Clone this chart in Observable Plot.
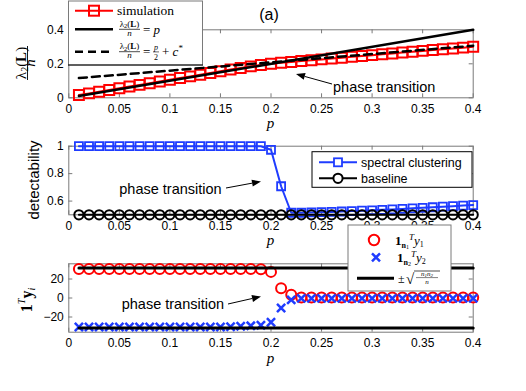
<!DOCTYPE html>
<html><head><meta charset="utf-8">
<script src="https://cdn.jsdelivr.net/npm/d3@7"></script>
<script src="https://cdn.jsdelivr.net/npm/@observablehq/plot@0.6"></script>
<style>
body{margin:0;background:#fff;}
#wrap{position:relative;width:526px;height:391px;overflow:hidden;background:#fff;}
</style></head><body><div id="wrap"></div>
<script>
// ---------- data ----------
const p = [0.01,0.02,0.03,0.04,0.05,0.06,0.07,0.08,0.09,0.10,0.11,0.12,0.13,0.14,0.15,0.16,0.17,0.18,0.19,0.20,
           0.21,0.22,0.23,0.24,0.25,0.26,0.27,0.28,0.29,0.30,0.31,0.32,0.33,0.34,0.35,0.36,0.37,0.38,0.39,0.40];
const simulation = [0.016,0.026,0.036,0.046,0.056,0.066,0.076,0.086,0.096,0.106,0.116,0.126,0.136,0.146,0.156,0.166,0.175,0.185,0.193,0.200,
                    0.206,0.211,0.216,0.221,0.226,0.231,0.236,0.241,0.246,0.251,0.256,0.261,0.266,0.271,0.276,0.281,0.286,0.290,0.295,0.300];
const lineP = [0.01, 0.40];
const theoryP = [0.01, 0.40];          // lambda2/n = p
const theoryHalf = [0.116, 0.306];     // lambda2/n = p/2 + c*
const spectral = [1,1,1,1,1,1,1,1,1,1,1,1,1,1,1,1,1,1,1,0.974,
                  0.708,0.515,0.515,0.517,0.519,0.521,0.524,0.527,0.530,0.533,0.536,0.539,0.543,0.547,0.551,0.555,0.559,0.563,0.567,0.571];
const baseline = [0.5,0.5,0.5,0.5,0.5,0.5,0.5,0.5,0.5,0.5,0.5,0.5,0.5,0.5,0.5,0.5,0.5,0.5,0.5,0.5,
                  0.5,0.5,0.5,0.5,0.5,0.5,0.5,0.5,0.5,0.5,0.5,0.5,0.5,0.5,0.5,0.5,0.5,0.5,0.5,0.5];
const sumY1 = [30.6,30.6,30.6,30.6,30.6,30.6,30.6,30.6,30.6,30.6,30.6,30.6,30.6,30.6,30.6,30.6,30.6,30.6,30.2,27.5,
               10.2,3.5,0.6,0.6,0.6,0.6,0.6,0.6,0.6,0.6,0.6,0.6,0.6,0.6,0.6,0.6,0.6,0.6,0.6,0.6];
const sumY2 = [-30.6,-30.6,-30.6,-30.6,-30.6,-30.6,-30.6,-30.6,-30.6,-30.6,-30.6,-30.6,-30.6,-30.6,-30.6,-30.2,-29.8,-29.3,-28.6,-25.5,
               -10.5,-2.0,-0.4,-0.4,-0.4,-0.4,-0.4,-0.4,-0.4,-0.4,-0.4,-0.4,-0.4,-0.4,-0.4,-0.4,-0.4,-0.4,-0.4,-0.4];
const boundUpper = [31.6, 31.6];
const boundLower = [-31.6, -31.6];

const xTicks = [0,0.05,0.1,0.15,0.2,0.25,0.3,0.35,0.4];
const xTickLabels = ["0","0.05","0.1","0.15","0.2","0.25","0.3","0.35","0.4"];
const y1Ticks = [0,0.2,0.4];   const y1TickLabels = ["0","0.2","0.4"];
const y2Ticks = [0.6,0.8,1];   const y2TickLabels = ["0.6","0.8","1"];
const y3Ticks = [-20,0,20];    const y3TickLabels = ["\u221220","0","20"];

// ---------- layout / style ----------
const wrap = document.getElementById("wrap");
const SANS = "'Liberation Sans', Arial, Helvetica, sans-serif";
const SERIF = "'Liberation Serif', 'DejaVu Serif', serif";
const GRAY = "#7a7a7a";
const RED = "#ff0000";
const BLUE = "#1f3cff";
const W = 526, ML = 68.3, MR = 53.3;

function panel({top, height, frameTop, frameBottom, yDomain, yTicks, yTickLabels, marks}) {
  const mt = frameTop - top, mb = top + height - frameBottom;
  const fh = frameBottom - frameTop, fw = W - ML - MR;
  const tk = {stroke: GRAY, strokeWidth: 1};
  const svg = Plot.plot({
    width: W, height, marginTop: mt, marginBottom: mb, marginLeft: ML, marginRight: MR,
    style: {fontFamily: SANS, fontSize: "12px", background: "transparent", overflow: "visible", color: "#000"},
    x: {domain: [0, 0.4], ticks: xTicks, tickFormat: d => xTickLabels[xTicks.indexOf(d)], tickSize: 0, tickPadding: 6.5, label: null},
    y: {domain: yDomain, ticks: yTicks, tickFormat: d => yTickLabels[yTicks.indexOf(d)], tickSize: 0, tickPadding: 5, label: null},
    marks: [
      Plot.frame({stroke: GRAY, strokeWidth: 1}),
      Plot.tickX(xTicks, {x: d => d, insetTop: fh - 4, ...tk}),
      Plot.tickX(xTicks, {x: d => d, insetBottom: fh - 4, ...tk}),
      Plot.tickY(yTicks, {y: d => d, insetRight: fw - 4, ...tk}),
      Plot.tickY(yTicks, {y: d => d, insetLeft: fw - 4, ...tk}),
      ...marks
    ]
  });
  svg.style.position = "absolute";
  svg.style.left = "0px";
  svg.style.top = top + "px";
  wrap.appendChild(svg);
}

const P = p.map((v, i) => ({p: v, sim: simulation[i], sc: spectral[i], bl: baseline[i], y1: sumY1[i], y2: sumY2[i]}));
const L = lineP.map((v, i) => ({p: v, a: theoryP[i], b: theoryHalf[i], up: boundUpper[i], lo: boundLower[i]}));

panel({top: 0, height: 135, frameTop: 29.3, frameBottom: 97.3, yDomain: [0, 0.4], yTicks: y1Ticks, yTickLabels: y1TickLabels,
  marks: [
    Plot.line(P, {x: "p", y: "sim", stroke: RED, strokeWidth: 2}),
    Plot.dot(P, {x: "p", y: "sim", symbol: "square", r: 5.6, stroke: RED, strokeWidth: 2}),
    Plot.line(L, {x: "p", y: "a", stroke: "#000", strokeWidth: 2.5}),
    Plot.line(L, {x: "p", y: "b", stroke: "#000", strokeWidth: 2.5, strokeDasharray: "8,5"})
  ]});

panel({top: 120, height: 130, frameTop: 145.7, frameBottom: 214.3, yDomain: [0.5, 1], yTicks: y2Ticks, yTickLabels: y2TickLabels,
  marks: [
    Plot.line(P, {x: "p", y: "sc", stroke: BLUE, strokeWidth: 2}),
    Plot.dot(P, {x: "p", y: "sc", symbol: "square", r: 4.5, stroke: BLUE, strokeWidth: 1.8}),
    Plot.line(P, {x: "p", y: "bl", stroke: "#000", strokeWidth: 2}),
    Plot.dot(P, {x: "p", y: "bl", r: 4.6, stroke: "#000", strokeWidth: 2})
  ]});

panel({top: 250, height: 141, frameTop: 263.3, frameBottom: 331.7, yDomain: [-36, 36], yTicks: y3Ticks, yTickLabels: y3TickLabels,
  marks: [
    Plot.dot(P, {x: "p", y: "y1", r: 5, stroke: RED, strokeWidth: 2}),
    Plot.dot(P, {x: "p", y: "y2", symbol: "times", r: 3.8, stroke: BLUE, strokeWidth: 2.5}),
    Plot.line(L, {x: "p", y: "up", stroke: "#000", strokeWidth: 3}),
    Plot.line(L, {x: "p", y: "lo", stroke: "#000", strokeWidth: 3})
  ]});

// ---------- overlay: title, labels, legends, annotations ----------
function arrow(x1, y1, x2, y2) {
  const a = Math.atan2(y2 - y1, x2 - x1), len = 9, hw = 3.5;
  const bx = x2 - len * Math.cos(a), by = y2 - len * Math.sin(a);
  const px = -Math.sin(a) * hw, py = Math.cos(a) * hw;
  return `<line x1="${x1}" y1="${y1}" x2="${bx}" y2="${by}" stroke="#000" stroke-width="1"/>` +
         `<path d="M${x2},${y2}L${bx + px},${by + py}L${bx - px},${by - py}Z" fill="#000"/>`;
}
const ov = `
<svg xmlns="http://www.w3.org/2000/svg" width="526" height="391" style="position:absolute;left:0;top:0;overflow:visible" font-family="${SERIF}">
 <text x="269" y="20" text-anchor="middle" font-family="${SANS}" font-size="16">(a)</text>

 <g font-size="15" font-style="italic" text-anchor="middle">
  <text x="270.5" y="128.2">p</text>
  <text x="270.5" y="245.2">p</text>
  <text x="270.5" y="362.6">p</text>
 </g>

 <g transform="translate(27.5,63) rotate(-90)">
  <text x="0" y="-2" font-size="15" text-anchor="middle">λ<tspan font-size="10" dy="2.5">2</tspan><tspan dy="-2.5">(</tspan><tspan font-weight="bold">L</tspan>)</text>
  <line x1="-17" x2="17" y1="0" y2="0" stroke="#000" stroke-width="0.9"/>
  <text x="0" y="7" font-size="15" font-style="italic" text-anchor="middle">n</text>
 </g>
 <text transform="translate(38.5,180) rotate(-90)" text-anchor="middle" font-family="${SANS}" font-size="15">detectability</text>
 <g transform="translate(32,300) rotate(-90)">
  <text x="0" y="0" font-size="16" text-anchor="middle"><tspan font-weight="bold">1</tspan><tspan font-size="10" font-style="italic" dy="-7">T</tspan><tspan font-weight="bold" dy="7">y</tspan><tspan font-size="10" font-style="italic" dy="3">i</tspan></text>
 </g>

 <rect x="68.5" y="1" width="134" height="64" fill="#fff" stroke="${GRAY}"/>
 <line x1="68" x2="203" y1="65" y2="65" stroke="#000" stroke-width="1"/>
 <line x1="75" x2="113" y1="10.7" y2="10.7" stroke="${RED}" stroke-width="2"/>
 <rect x="89" y="5.7" width="10" height="10" fill="none" stroke="${RED}" stroke-width="2"/>
 <text x="117" y="15" font-size="13.5">simulation</text>
 <line x1="75" x2="113" y1="29.3" y2="29.3" stroke="#000" stroke-width="2.5"/>
 <text x="129.5" y="26.6" font-size="9" text-anchor="middle">λ<tspan font-size="6.5" dy="1.5">2</tspan><tspan dy="-1.5">(</tspan><tspan font-weight="bold">L</tspan>)</text>
 <line x1="119" x2="140" y1="29.3" y2="29.3" stroke="#000" stroke-width="0.7"/>
 <text x="129.5" y="35.6" font-size="9" font-style="italic" text-anchor="middle">n</text>
 <text x="143" y="33.5" font-size="13">= <tspan font-style="italic">p</tspan></text>
 <line x1="75" x2="113" y1="51.7" y2="51.7" stroke="#000" stroke-width="2.5" stroke-dasharray="8,5"/>
 <text x="129.5" y="49" font-size="9" text-anchor="middle">λ<tspan font-size="6.5" dy="1.5">2</tspan><tspan dy="-1.5">(</tspan><tspan font-weight="bold">L</tspan>)</text>
 <line x1="119" x2="140" y1="51.7" y2="51.7" stroke="#000" stroke-width="0.7"/>
 <text x="129.5" y="58" font-size="9" font-style="italic" text-anchor="middle">n</text>
 <text x="143" y="56" font-size="13">=</text>
 <text x="156" y="49.8" font-size="8" font-style="italic" text-anchor="middle">p</text>
 <line x1="153" x2="159" y1="51.9" y2="51.9" stroke="#000" stroke-width="0.6"/>
 <text x="156" y="59.6" font-size="8" text-anchor="middle">2</text>
 <text x="162" y="56" font-size="13">+ <tspan font-style="italic">c</tspan><tspan font-size="9" dy="-5">*</tspan></text>

 <rect x="312" y="151.7" width="160" height="35.6" fill="#fff" stroke="#000"/>
 <line x1="319" x2="357" y1="162.3" y2="162.3" stroke="${BLUE}" stroke-width="2"/>
 <rect x="334" y="158.3" width="8" height="8" fill="#fff" stroke="${BLUE}" stroke-width="1.8"/>
 <text x="361" y="166.6" font-family="${SANS}" font-size="12.5">spectral clustering</text>
 <line x1="319" x2="357" y1="178.3" y2="178.3" stroke="#000" stroke-width="2"/>
 <circle cx="338" cy="178.3" r="4.6" fill="#fff" stroke="#000" stroke-width="2"/>
 <text x="361" y="182.6" font-family="${SANS}" font-size="12.5">baseline</text>

 <rect x="348" y="225" width="103" height="66" fill="#fff" stroke="${GRAY}"/>
 <circle cx="374" cy="240" r="5.2" fill="none" stroke="${RED}" stroke-width="2"/>
 <text x="395" y="244.5" font-size="13"><tspan font-weight="bold">1</tspan><tspan font-size="8" font-weight="bold" dy="3">n</tspan><tspan font-size="6" dy="1.5">1</tspan><tspan font-size="9" font-style="italic" dy="-9">T</tspan><tspan font-style="italic" dy="4.5">y</tspan><tspan font-size="8" dy="2">1</tspan></text>
 <path d="M372,253.3L380,261.3M380,253.3L372,261.3" stroke="${BLUE}" stroke-width="2.5"/>
 <text x="397" y="261.8" font-size="13"><tspan font-weight="bold">1</tspan><tspan font-size="8" font-weight="bold" dy="3">n</tspan><tspan font-size="6" dy="1.5">2</tspan><tspan font-size="9" font-style="italic" dy="-9">T</tspan><tspan font-style="italic" dy="4.5">y</tspan><tspan font-size="8" dy="2">2</tspan></text>
 <line x1="357" x2="394" y1="278.3" y2="278.3" stroke="#000" stroke-width="3"/>
 <text x="398" y="282.5" font-size="12">±</text>
 <text x="406" y="284" font-size="15">√</text>
 <line x1="414" x2="440" y1="271" y2="271" stroke="#000" stroke-width="0.7"/>
 <text x="427" y="276" font-size="7" font-style="italic" text-anchor="middle">n<tspan font-size="5" dy="1">1</tspan><tspan dy="-1">n</tspan><tspan font-size="5" dy="1">2</tspan></text>
 <line x1="416" x2="438" y1="277.6" y2="277.6" stroke="#000" stroke-width="0.5"/>
 <text x="427" y="284" font-size="7" font-style="italic" text-anchor="middle">n</text>

 <g font-family="${SANS}" font-size="14.5">
  <text x="333" y="92">phase transition</text>
  <text x="119.3" y="194">phase transition</text>
  <text x="121.7" y="308.5">phase transition</text>
 </g>
 ${arrow(332, 84, 296, 74)}
 ${arrow(226, 188, 261, 181.5)}
 ${arrow(228, 304, 261, 296.5)}
</svg>`;
wrap.insertAdjacentHTML("beforeend", ov);
</script>
</body></html>
